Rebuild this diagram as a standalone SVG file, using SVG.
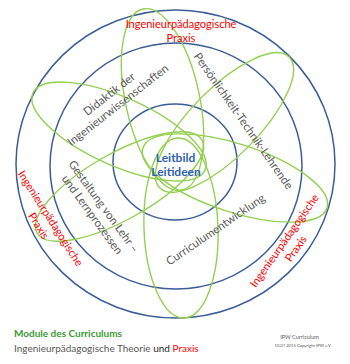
<svg xmlns="http://www.w3.org/2000/svg" width="350" height="364" viewBox="0 0 350 364">
<style>
.ring{fill:none;stroke:#3A5D96;stroke-width:1.5}
.petal{fill:none;stroke:#92D050;stroke-width:1.4}
.gray{font-family:Lato,"Liberation Sans",sans-serif;font-size:11.5px;fill:#595959}
.red{font-family:Lato,"Liberation Sans",sans-serif;font-size:11px;fill:#FF0000}
.blue{font-family:Lato,"Liberation Sans",sans-serif;font-size:12px;font-weight:bold;fill:#2F62B0}
.foot{font-family:Lato,"Liberation Sans",sans-serif;font-size:10px}
.tiny{font-family:Lato,"Liberation Sans",sans-serif;fill:#555555}
</style>
<rect width="350" height="364" fill="#ffffff"/>
<g id="rings">
<ellipse class="ring" cx="175.5" cy="164" rx="159.5" ry="154"/>
<ellipse class="ring" cx="176" cy="166" rx="126" ry="123"/>
<ellipse class="ring" cx="175" cy="162" rx="62" ry="58"/>
</g>
<g id="connectors">
<ellipse class="petal" cx="0" cy="0" rx="92.6" ry="37" transform="translate(162.5,99.5) rotate(77.84)"/>
<ellipse class="petal" cx="0" cy="0" rx="90" ry="37" transform="translate(181,228) rotate(88)"/>
<ellipse class="petal" cx="0" cy="0" rx="94.2" ry="34" transform="translate(119,131.5) rotate(24.1)"/>
<ellipse class="petal" cx="0" cy="0" rx="92" ry="34" transform="translate(224.5,122.5) rotate(-45.4)"/>
<ellipse class="petal" cx="0" cy="0" rx="94.7" ry="33" transform="translate(119.5,186.5) rotate(-29.4)"/>
<ellipse class="petal" cx="0" cy="0" rx="96.8" ry="34" transform="translate(235,178) rotate(18.06)"/>
</g>
<g id="node-leitbild">
<text class="blue" text-anchor="middle"><tspan x="175.5" y="162">Leitbild</tspan><tspan x="176" y="176">Leitideen</tspan></text>
</g>
<g id="node-didaktik">
<text class="gray" text-anchor="middle" transform="translate(113.5,99.5) rotate(-38)"><tspan x="0" y="-3">Didaktik der</tspan><tspan x="0" y="11">Ingenieurwissenschaften</tspan></text>
</g>
<g id="node-persoenlichkeit">
<text class="gray" text-anchor="middle" transform="translate(243.5,121) rotate(55)"><tspan x="0" y="4">Persönlichkeit-Technik-Lehrende</tspan></text>
</g>
<g id="node-gestaltung">
<text class="gray" text-anchor="middle" transform="translate(98,210.5) rotate(54)"><tspan x="0" y="-3">Gestaltung von Lehr –</tspan><tspan x="0" y="11">und Lernprozessen</tspan></text>
</g>
<g id="node-curriculum">
<text class="gray" text-anchor="middle" transform="translate(215.5,229.5) rotate(-34.4)"><tspan x="0" y="4">Curriculumentwicklung</tspan></text>
</g>
<g id="node-praxis-top">
<text class="red" text-anchor="middle"><tspan x="181" y="28">Ingenieurpädagogische</tspan><tspan x="181" y="42">Praxis</tspan></text>
</g>
<g id="node-praxis-left">
<text class="red" text-anchor="middle" transform="translate(44.7,222) rotate(57.4)"><tspan x="0" y="-3">Ingenieurpädagogische</tspan><tspan x="0" y="11">Praxis</tspan></text>
</g>
<g id="node-praxis-right">
<text class="red" text-anchor="middle" transform="translate(290,244.5) rotate(-55)"><tspan x="0" y="-3">Ingenieurpädagogische</tspan><tspan x="0" y="11">Praxis</tspan></text>
</g>
<g id="legend">
<text class="foot" x="14" y="337" font-weight="bold" fill="#3C9A34">Module des Curriculums</text>
<text class="foot" x="14" y="352" fill="#595959">Ingenieurpädagogische Theorie <tspan fill="#262626">und</tspan> <tspan fill="#FF0000">Praxis</tspan></text>
</g>
<g id="copyright">
<text class="tiny" x="299.5" y="339" font-size="5.5" text-anchor="middle">IPW Curriculum</text>
<text class="tiny" x="303" y="347" font-size="4.2" text-anchor="middle">10.07.2015 Copyright IPW e.V.</text>
</g>
</svg>
